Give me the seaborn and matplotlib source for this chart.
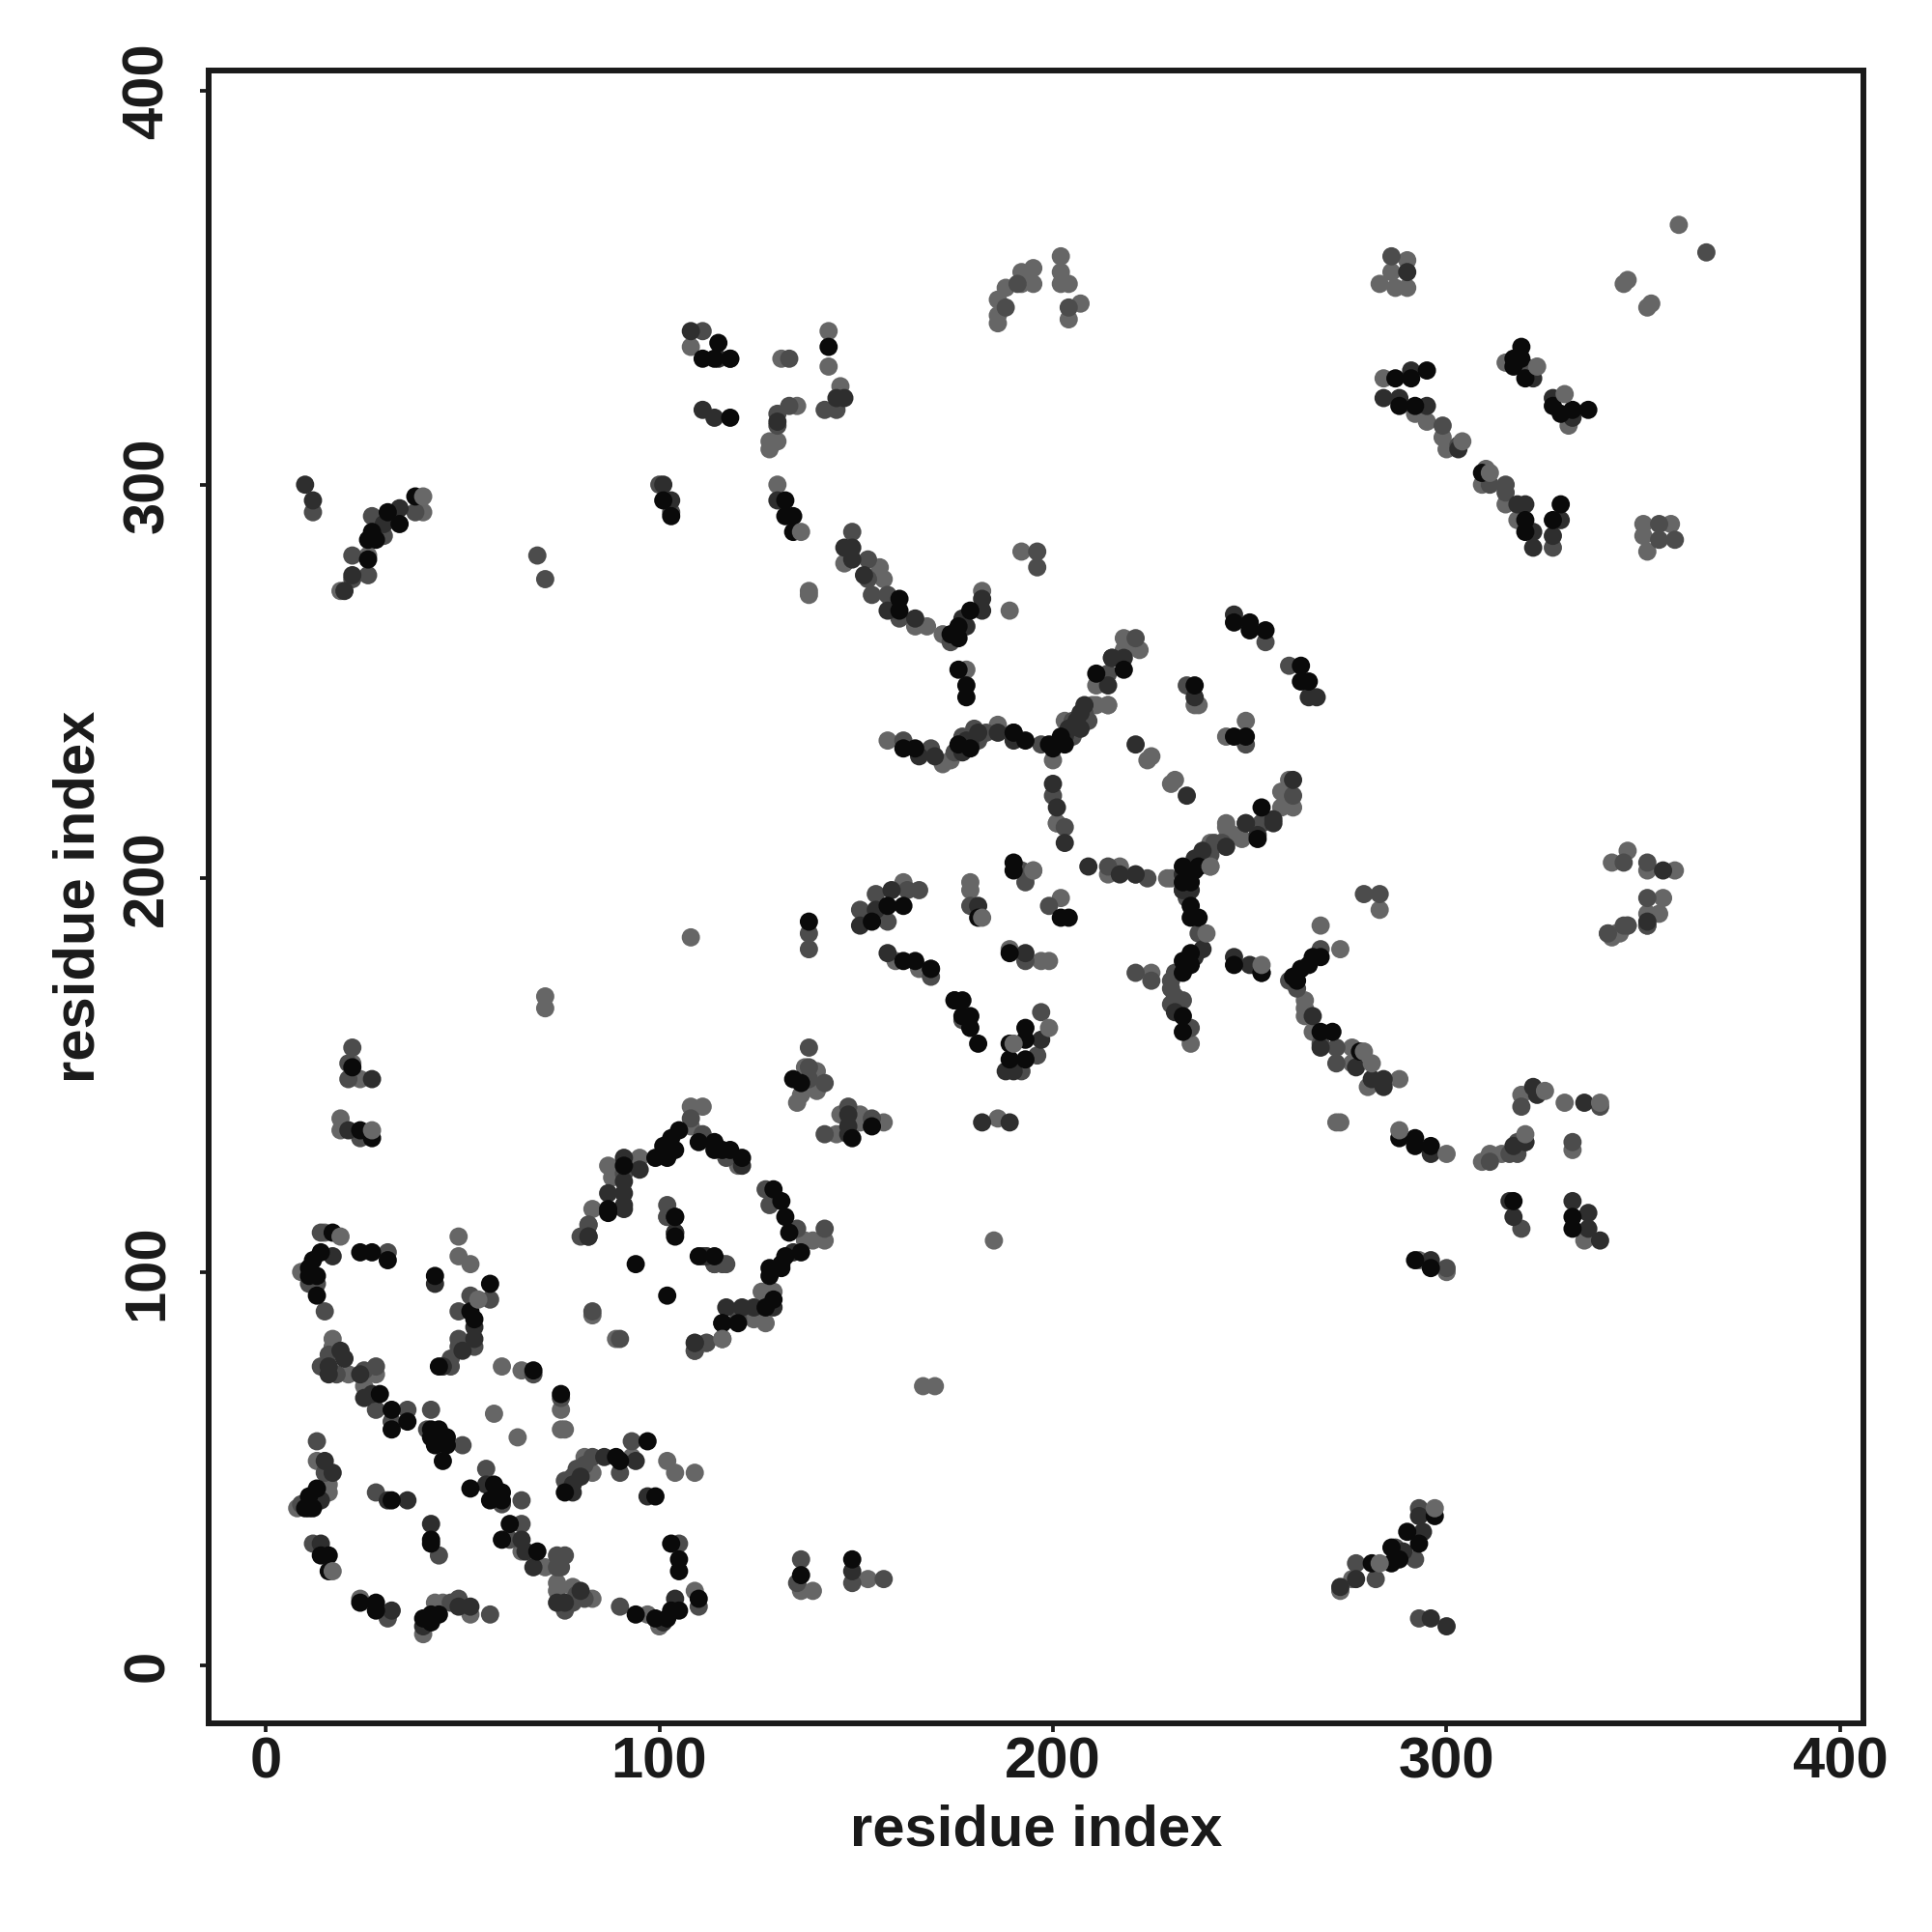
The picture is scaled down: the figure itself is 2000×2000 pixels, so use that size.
import matplotlib
matplotlib.use("Agg")
import matplotlib.pyplot as plt
import seaborn as sns
import pandas as pd

# contacts, one list per grey level (drawn in this order)
light = [
    (15,110),(9,100),(17,83),(17,81),(21,74),(28,74),(25,71),(49,109),(49,104),(52,102),(89,83),(83,116),
    (116,83),(83,89),(58,64),(64,58),(60,76),(65,75),(75,65),(76,60),(75,60),(13,52),(16,46),(16,44),(8,40),
    (81,53),(83,49),(93,53),(102,52),(104,49),(109,49),(65,29),(71,25),(74,21),(74,19),(78,20),(83,17),
    (97,13),(100,10),(109,19),(52,13),(40,8),(43,16),(45,16),(24,17),(108,142),(111,142),(108,137),(120,127),
    (87,127),(95,129),(88,124),(126,95),(129,95),(137,108),(139,108),(142,108),(124,88),(127,87),(116,83),
    (102,114),(136,145),(135,143),(140,151),(140,146),(146,140),(151,140),(151,138),(157,138),(145,135),
    (186,139),(185,108),(167,71),(170,71),(162,199),(179,199),(179,197),(195,202),(202,195),(201,214),(214,201),
    (217,203),(229,200),(230,200),(244,213),(246,211),(240,209),(240,203),(235,158),(225,176),(160,179),(166,177),
    (189,182),(197,179),(199,179),(218,261),(222,258),(218,258),(211,249),(214,244),(210,244),(236,244),(237,244),
    (224,230),(225,231),(231,225),(230,224),(249,240),(244,236),(260,225),(258,222),(258,218),(261,218),(244,214),
    (248,210),(244,210),(268,188),(283,192),(264,169),(264,167),(264,165),(266,161),(276,157),(276,153),(280,147),
    (288,149),(273,138),(272,138),(309,128),(311,130),(314,130),(319,145),(330,143),(332,131),(335,108),(293,103),
    (300,100),(341,186),(343,186),(351,188),(342,204),(346,207),(351,202),(358,202),(355,195),(351,191),(354,191),
    (346,188),(342,185),(344,186),(143,339),(143,330),(146,325),(131,332),(135,320),(128,311),(130,311),(128,309),
    (130,300),(147,280),(156,279),(157,276),(138,273),(138,272),(165,264),(168,264),(172,262),(182,273),(189,268),
    (192,283),(178,253),(158,235),(174,230),(186,239),(200,230),(203,240),(211,244),(214,244),(186,341),(186,343),
    (207,346),(204,342),(188,350),(192,354),(195,351),(202,358),(202,354),(22,153),(24,149),(19,139),(19,136),
    (71,170),(71,167),(26,282),(19,273),(40,293),(359,366),(345,351),(346,352),(351,345),(352,346),(290,357),
    (286,354),(283,351),(287,350),(290,350),(284,327),(292,318),(295,316),(299,312),(300,309),(315,331),(331,315),
    (310,304),(309,300),(315,295),(318,291),(350,290),(357,290),(350,287),(351,283),(276,22),(273,19),(153,22),
    (108,185),(137,152),(136,19),(139,19),(108,335),(172,229),(77,45),(201,214),(192,351),(195,355),(204,351),
    (186,347),(202,351),
]
mid = [
    (14,110),(11,97),(13,97),(15,90),(31,105),(52,94),(57,93),(49,90),(53,81),(49,83),(49,81),(47,78),(47,76),
    (83,90),(90,83),(109,80),(112,82),(114,102),(116,102),(82,112),(80,109),(102,114),(16,79),(14,76),(18,74),
    (25,75),(28,76),(28,65),(36,65),(32,62),(42,65),(41,60),(50,56),(68,74),(75,68),(13,57),(15,49),(9,41),
    (28,44),(56,50),(60,41),(65,42),(79,50),(81,51),(83,53),(90,49),(93,57),(12,31),(44,28),(65,36),(62,32),
    (74,28),(76,28),(74,25),(75,25),(79,18),(81,17),(78,16),(76,14),(90,15),(110,15),(105,31),(31,12),(47,16),
    (49,17),(57,13),(108,139),(111,135),(117,129),(91,125),(82,112),(102,117),(114,102),(117,102),(127,121),
    (128,117),(135,111),(142,111),(120,88),(112,82),(109,80),(138,152),(138,149),(142,148),(148,142),(154,139),
    (142,135),(151,192),(155,196),(158,189),(163,197),(166,197),(179,193),(192,202),(193,199),(199,193),(203,213),
    (214,203),(221,201),(224,200),(233,197),(243,209),(253,214),(237,186),(231,176),(230,174),(230,172),(231,170),
    (233,169),(230,168),(235,162),(221,176),(225,174),(169,175),(193,179),(177,164),(197,166),(196,155),(192,151),
    (221,261),(214,252),(209,240),(205,240),(234,249),(249,234),(261,221),(253,214),(241,209),(240,206),(254,260),
    (260,254),(279,196),(283,196),(268,182),(260,174),(262,172),(272,157),(272,153),(268,158),(311,128),(316,130),
    (318,130),(318,133),(319,142),(339,142),(332,133),(319,111),(300,101),(346,188),(345,204),(351,204),(351,195),
    (351,188),(345,188),(341,186),(366,359),(142,319),(145,319),(133,332),(133,320),(130,318),(130,315),(149,288),
    (153,281),(153,276),(154,272),(158,272),(161,266),(174,260),(169,233),(162,235),(180,238),(197,234),(206,240),
    (208,242),(188,345),(204,345),(21,153),(22,157),(21,149),(24,134),(12,293),(38,293),(27,292),(30,287),(22,282),
    (26,277),(22,276),(69,282),(71,276),(100,300),(103,293),(286,358),(354,290),(354,286),(358,286),(299,315),
    (303,310),(320,330),(311,300),(315,300),(315,298),(327,284),(293,40),(287,30),(292,27),(277,26),(282,22),
    (293,12),(136,27),(135,21),(149,21),(157,22),(138,157),(138,186),(138,182),(320,133),(196,283),(196,279),
    (111,339),(200,221),(76,47),(78,48),(175,232),(177,236),(181,235),(183,237),(205,236),(234,195),(191,351),
]
dark = [
    (17,104),(53,86),(53,83),(43,97),(50,80),(45,76),(82,109),(109,82),(91,116),(112,104),(104,110),(20,78),(19,80),
    (16,76),(16,74),(24,74),(25,68),(27,69),(15,52),(17,49),(14,42),(31,42),(36,42),(56,46),(78,46),(86,53),(94,52),
    (97,43),(14,31),(42,36),(65,32),(66,29),(68,25),(74,16),(80,19),(76,16),(104,17),(101,11),(32,14),(49,15),(52,15),
    (40,10),(121,127),(91,129),(95,126),(91,123),(87,120),(91,120),(91,117),(82,109),(104,110),(111,104),(129,91),
    (124,91),(121,91),(117,91),(134,105),(109,82),(148,140),(148,137),(148,135),(182,138),(189,138),(155,192),(151,188),
    (159,197),(181,193),(203,209),(209,203),(217,201),(221,201),(235,197),(237,204),(252,211),(249,214),(256,214),
    (238,182),(236,180),(231,166),(158,181),(169,177),(193,181),(175,169),(197,159),(188,151),(190,151),(246,267),
    (265,246),(267,246),(215,256),(218,256),(214,249),(208,244),(206,240),(204,238),(236,246),(221,234),(234,221),
    (261,225),(256,215),(249,214),(244,208),(238,207),(236,205),(233,197),(246,180),(250,178),(266,165),(268,157),
    (277,152),(281,149),(284,149),(284,147),(296,130),(317,132),(320,133),(322,147),(323,145),(335,143),(316,118),
    (317,114),(332,118),(336,115),(336,111),(339,108),(296,103),(355,202),(351,189),(118,332),(145,322),(147,322),
    (130,316),(130,296),(147,284),(149,284),(149,281),(152,277),(158,268),(165,266),(170,231),(166,231),(178,235),
    (177,232),(181,237),(186,237),(190,235),(204,238),(207,242),(182,271),(182,268),(177,266),(178,264),(215,256),
    (10,300),(12,296),(34,294),(30,290),(22,277),(20,273),(103,296),(101,300),(290,354),(291,329),(284,322),(288,322),
    (295,320),(303,309),(322,327),(327,322),(332,317),(318,295),(320,295),(322,288),(322,284),(329,291),(327,287),
    (293,38),(289,29),(294,34),(277,22),(273,20),(296,12),(300,10),(21,136),(27,149),(149,24),(190,237),
    (108,339),(115,332),(111,319),(114,317),(200,224),(201,218),(80,48),(78,44),(179,234),(207,238),(203,236),(233,201),
]
black = [
    (17,110),(14,105),(12,103),(11,101),(13,99),(11,99),(13,94),(24,105),(27,105),(31,103),(43,99),(57,97),(52,90),
    (53,88),(44,76),(116,87),(94,102),(102,94),(110,104),(114,104),(87,115),(104,114),(104,109),(29,69),(32,65),(36,62),
    (32,60),(42,60),(44,60),(42,58),(46,58),(43,56),(45,52),(46,56),(68,75),(75,69),(13,45),(11,43),(11,40),(12,40),
    (10,40),(32,42),(52,45),(58,46),(57,42),(60,44),(60,42),(76,44),(89,53),(90,52),(97,57),(99,43),(14,28),(16,28),
    (16,24),(42,31),(42,32),(62,36),(60,32),(69,29),(94,13),(99,12),(102,12),(103,14),(105,14),(110,17),(103,31),(105,27),
    (105,24),(24,16),(28,16),(28,14),(40,12),(42,13),(42,11),(44,13),(110,133),(114,133),(114,131),(116,131),(118,131),
    (121,129),(105,136),(103,134),(101,132),(104,131),(99,129),(102,129),(91,127),(87,116),(104,114),(129,121),(131,118),
    (132,114),(133,110),(136,105),(132,104),(131,102),(128,101),(128,99),(131,101),(129,93),(127,91),(116,87),(120,87),
    (136,148),(134,149),(154,137),(149,134),(154,189),(158,193),(162,193),(181,190),(190,204),(190,202),(202,190),(204,190),
    (233,203),(233,199),(235,199),(236,202),(235,193),(235,190),(237,190),(235,181),(233,179),(235,178),(233,176),(233,165),
    (233,161),(162,179),(165,179),(169,177),(189,181),(175,169),(177,169),(177,165),(179,165),(179,162),(181,158),(193,162),
    (193,159),(189,158),(193,154),(189,154),(246,265),(250,265),(250,263),(254,263),(263,254),(263,250),(265,250),(218,253),
    (211,252),(202,236),(203,234),(236,249),(246,236),(249,236),(253,218),(252,210),(237,203),(246,178),(253,176),(268,180),
    (266,180),(265,178),(263,177),(261,175),(262,174),(268,161),(271,161),(278,156),(288,134),(292,134),(292,132),(296,132),
    (317,118),(332,114),(332,111),(292,103),(296,101),(143,335),(118,317),(132,296),(132,292),(134,292),(134,288),(161,271),
    (161,268),(174,262),(176,264),(176,261),(179,268),(176,253),(178,249),(178,246),(162,233),(165,233),(176,234),(179,233),
    (190,237),(193,235),(199,234),(200,233),(38,297),(34,290),(31,293),(27,288),(26,286),(28,286),(26,281),(101,296),(103,292),
    (287,327),(291,327),(295,329),(288,320),(292,320),(319,335),(317,332),(319,332),(317,330),(320,327),(327,320),(329,318),
    (332,319),(336,319),(309,303),(320,291),(320,288),(329,295),(327,291),(297,38),(290,34),(293,31),(286,30),(286,26),(288,27),
    (281,26),(22,152),(24,136),(27,134),(149,27),(136,23),(138,189),(253,176),(111,332),(115,336),(114,332),(118,332),
]
# light dots that sit on top of the dark ones
light_over = [
    (19,109),(17,24),(54,93),(27,136),(239,186),(182,190),(195,202),(136,288),(253,178),(273,182),(279,156),(323,330),
    (330,323),(40,297),(281,153),(339,143),(311,303),(304,311),(300,130),(288,136),(320,135),(325,146),(297,40),(283,26),
    (199,162),(116,83),(190,158),(240,203),
]
tick_values = [0, 100, 200, 300, 400]
axis_label = "residue index"

levels = {"light": light, "mid": mid, "dark": dark, "black": black, "over": light_over}
greys = {"light": "#666666", "mid": "#4c4c4c", "dark": "#2e2e2e", "black": "#0a0a0a", "over": "#686868"}

df = pd.concat(
    [pd.DataFrame(pts, columns=["x", "y"]).assign(level=name) for name, pts in levels.items()],
    ignore_index=True,
)

sns.set_theme(style="white")
plt.rcParams["font.family"] = ["Liberation Sans", "DejaVu Sans"]
plt.rcParams["font.weight"] = "bold"

fig = plt.figure(figsize=(20, 20), dpi=100, facecolor="w")
ax = fig.add_axes([216 / 2000, 216 / 2000, 1713 / 2000, 1711 / 2000])
sns.scatterplot(data=df, x="x", y="y", hue="level", palette=greys, s=185, linewidth=0, legend=False, ax=ax)

ax.set_xlim(-14.5, 405.9)
ax.set_ylim(-14.65, 405.2)
ax.set_xticks(tick_values)
ax.set_yticks(tick_values)
ax.tick_params(axis="both", bottom=True, left=True, length=6.8, width=2.7, color="k", labelsize=43, labelcolor="k")
ax.tick_params(axis="x", pad=3)
ax.tick_params(axis="y", pad=18.5)
for lab in ax.get_yticklabels():
    lab.set_rotation(90)
    lab.set_va("center")
for s in ax.spines.values():
    s.set_visible(True)
    s.set_linewidth(4.3)
    s.set_color("k")

ax.set_xlabel(axis_label, fontsize=43, fontweight="bold", color="k", va="center")
ax.set_ylabel(axis_label, fontsize=43, fontweight="bold", color="k", va="center")
ax.xaxis.set_label_coords(0.5, -0.065)
ax.yaxis.set_label_coords(-0.0785, 0.5)

plt.savefig("out.png", dpi=100, facecolor="w")
